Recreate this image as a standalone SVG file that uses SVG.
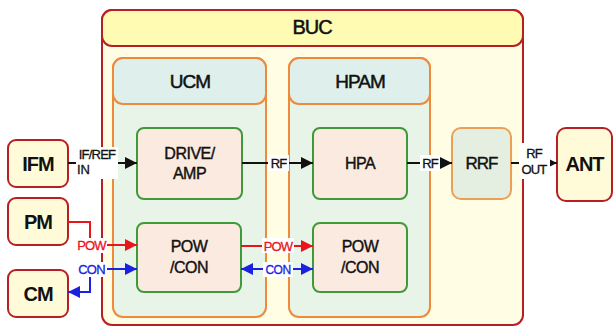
<svg xmlns="http://www.w3.org/2000/svg" width="614" height="327" viewBox="0 0 614 327">
<style>
.t{font-family:"Liberation Sans",Arial,sans-serif;fill:#111;text-anchor:middle}
.big{font-size:20px;stroke:#111;stroke-width:0.5}
.mod{font-size:19px;stroke:#111;stroke-width:0.5}
.blk{font-size:16px;stroke:#111;stroke-width:0.4}
.ext{font-size:20px;font-weight:bold;letter-spacing:-1px}
.lbl{font-size:13px;stroke-width:0.3}
.buc{fill:#fffde4;stroke:#b81f24;stroke-width:2}
.bhead{fill:#fffbb2;stroke:#b81f24;stroke-width:2}
.mbody{fill:#e8f4e8;stroke:#ee8a3a;stroke-width:2}
.mhead{fill:#deefec;stroke:#ee8a3a;stroke-width:2}
.inner{fill:#fbeae0;stroke:#3e9a3a;stroke-width:2}
.rrf{fill:#e4efe2;stroke:#eba05a;stroke-width:2}
.exb{fill:#fffbd8;stroke:#b81f24;stroke-width:2}
.k{stroke:#111;stroke-width:2;fill:none}
.r{stroke:#e8151b;stroke-width:2;fill:none}
.b{stroke:#1a22e0;stroke-width:2;fill:none}
.bg{fill:#fff}
</style>
<defs>
<marker id="ak" viewBox="0 0 10 10" refX="10" refY="5" markerWidth="6" markerHeight="6" orient="auto-start-reverse" markerUnits="strokeWidth"><path d="M0,0 L10,5 L0,10 z" fill="#111"/></marker>
<marker id="ar" viewBox="0 0 10 10" refX="10" refY="5" markerWidth="6" markerHeight="6" orient="auto-start-reverse" markerUnits="strokeWidth"><path d="M0,0 L10,5 L0,10 z" fill="#e8151b"/></marker>
<marker id="ab" viewBox="0 0 10 10" refX="10" refY="5" markerWidth="6" markerHeight="6" orient="auto-start-reverse" markerUnits="strokeWidth"><path d="M0,0 L10,5 L0,10 z" fill="#1a22e0"/></marker>
</defs>

<g id="BUC">
<rect class="buc" x="102" y="10" width="421" height="315" rx="10"/>
<rect class="bhead" x="102" y="10" width="421" height="36" rx="10"/>
<text class="t big" x="312" y="34" letter-spacing="-1">BUC</text>
</g>

<g id="UCM">
<rect class="mbody" x="113" y="58" width="153" height="259" rx="10"/>
<rect class="mhead" x="113" y="58" width="153" height="46" rx="10"/>
<text class="t mod" x="190" y="88" letter-spacing="-1">UCM</text>
</g>

<g id="HPAM">
<rect class="mbody" x="289" y="58" width="141" height="259" rx="10"/>
<rect class="mhead" x="289" y="58" width="141" height="46" rx="10"/>
<text class="t mod" x="360" y="88" letter-spacing="-1">HPAM</text>
</g>

<g id="DRIVE_AMP">
<rect class="inner" x="137" y="128" width="105" height="71" rx="7"/>
<text class="t blk" x="189.5" y="159" letter-spacing="-0.5">DRIVE/</text>
<text class="t blk" x="189.5" y="179" letter-spacing="-0.5">AMP</text>
</g>

<g id="POWCON_UCM">
<rect class="inner" x="137" y="223" width="104" height="69" rx="7"/>
<text class="t blk" x="189" y="252" letter-spacing="-0.5">POW</text>
<text class="t blk" x="189" y="273" letter-spacing="-0.5">/CON</text>
</g>

<g id="HPA">
<rect class="inner" x="313" y="128" width="94" height="71" rx="7"/>
<text class="t blk" x="360" y="169" letter-spacing="-0.5">HPA</text>
</g>

<g id="POWCON_HPAM">
<rect class="inner" x="313" y="223" width="94" height="69" rx="7"/>
<text class="t blk" x="360" y="252" letter-spacing="-0.5">POW</text>
<text class="t blk" x="360" y="273" letter-spacing="-0.5">/CON</text>
</g>

<g id="RRF">
<rect class="rrf" x="452" y="128" width="59" height="71" rx="9"/>
<text class="t" x="481.5" y="169" font-size="17" letter-spacing="-1" stroke="#111" stroke-width="0.4">RRF</text>
</g>

<g id="IFM">
<rect class="exb" x="8" y="140" width="60" height="47" rx="8"/>
<text class="t ext" x="38" y="171">IFM</text>
</g>

<g id="PM">
<rect class="exb" x="8" y="198" width="60" height="47" rx="8"/>
<text class="t ext" x="38" y="229">PM</text>
</g>

<g id="CM">
<rect class="exb" x="8" y="270" width="60" height="47" rx="8"/>
<text class="t ext" x="38" y="301">CM</text>
</g>

<g id="ANT">
<rect class="exb" x="557" y="128" width="55" height="73" rx="9"/>
<text class="t ext" x="584.5" y="171">ANT</text>
</g>

<g id="connectors">
<path class="k" d="M68,163 H137" marker-end="url(#ak)"/>
<path class="k" d="M242,163 H313" marker-end="url(#ak)"/>
<path class="k" d="M407,163 H452" marker-end="url(#ak)"/>
<path class="k" d="M511,163 H557" marker-end="url(#ak)"/>
<path class="r" d="M68,222 H90 V245 H137" marker-end="url(#ar)"/>
<path class="b" d="M137,269 H90 V292 H68" marker-start="url(#ab)" marker-end="url(#ab)"/>
<path class="r" d="M241,246 H313" marker-end="url(#ar)"/>
<path class="b" d="M241,269 H313" marker-start="url(#ab)" marker-end="url(#ab)"/>

<rect class="bg" x="76" y="147" width="42" height="32"/>
<text class="t lbl" x="97" y="159" letter-spacing="-0.8" stroke="#111">IF/REF</text>
<text class="t lbl" x="77" y="174" style="text-anchor:start" stroke="#111">IN</text>

<rect class="bg" x="268" y="155" width="21" height="16"/>
<text class="t lbl" x="278.5" y="168" letter-spacing="-0.8" stroke="#111">RF</text>

<rect class="bg" x="420" y="155" width="20" height="16"/>
<text class="t lbl" x="430" y="168" letter-spacing="-0.8" stroke="#111">RF</text>

<rect class="bg" x="519" y="143" width="31" height="36"/>
<text class="t lbl" x="534" y="158" letter-spacing="-0.8" stroke="#111">RF</text>
<text class="t lbl" x="534" y="174" letter-spacing="-0.8" stroke="#111">OUT</text>

<rect class="bg" x="76" y="238" width="31" height="15"/>
<text class="t lbl" x="91.5" y="250" style="fill:#e8151b" stroke="#e8151b" letter-spacing="-0.8">POW</text>
<rect class="bg" x="76" y="262" width="31" height="15"/>
<text class="t lbl" x="91.5" y="274" style="fill:#1a22e0" stroke="#1a22e0" letter-spacing="-0.8">CON</text>

<rect class="bg" x="262" y="238" width="32" height="15"/>
<text class="t lbl" x="278" y="251" style="fill:#e8151b" stroke="#e8151b" letter-spacing="-0.8">POW</text>
<rect class="bg" x="263" y="262" width="30" height="15"/>
<text class="t" x="278" y="274" font-size="12" style="fill:#1a22e0" stroke="#1a22e0" stroke-width="0.3" letter-spacing="-0.5">CON</text>
</g>
</svg>
